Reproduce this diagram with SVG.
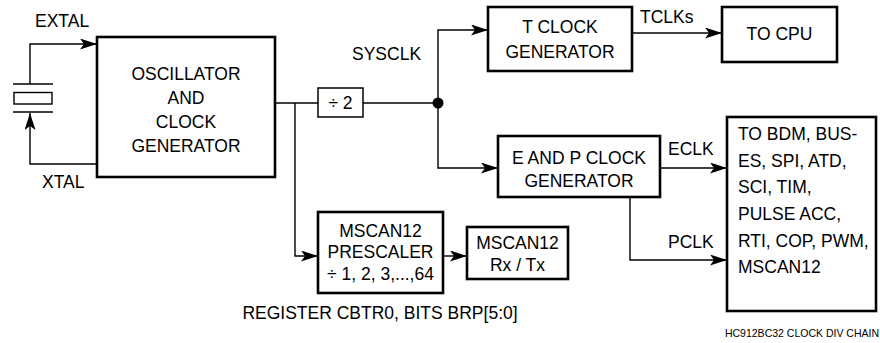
<svg xmlns="http://www.w3.org/2000/svg" width="880" height="343" viewBox="0 0 880 343">
<defs>
<marker id="arr" markerUnits="userSpaceOnUse" markerWidth="18" markerHeight="12" refX="17" refY="5.5" orient="auto">
<path d="M0,0 L17,5.5 L0,11 L4,5.5 Z" fill="#000"/>
</marker>
<style>
.box{fill:#fff;stroke:#000;stroke-width:2.6}
.thin{fill:#fff;stroke:#000;stroke-width:1.5}
.ln{fill:none;stroke:#000;stroke-width:1.4}
.a{marker-end:url(#arr)}
text{font-family:"Liberation Sans",Arial,sans-serif;font-size:17.5px;fill:#000}
.c{text-anchor:middle}
.s{font-size:10.5px}
</style>
</defs>
<rect width="880" height="343" fill="#fff"/>
<g id="crystal">
<line class="ln" x1="13" y1="84" x2="53" y2="84"/>
<rect class="thin" x="14" y="92.5" width="38" height="11.5" style="stroke-width:1.4"/>
<line class="ln" x1="13" y1="112" x2="53" y2="112"/>
</g>
<g id="connectors">
<path class="ln a" d="M30,84 V44 H97"/>
<path class="ln a" d="M97,164 H30 V113"/>
<path class="ln" d="M275,103 H318"/>
<path class="ln" d="M363,103 H438"/>
<path class="ln a" d="M438,103 V30 H488"/>
<path class="ln a" d="M438,103 V168 H498"/>
<circle cx="438" cy="103" r="5.5" fill="#000"/>
<path class="ln a" d="M295,103 V256 H318"/>
<path class="ln a" d="M443,256 H467"/>
<path class="ln a" d="M632,33 H722"/>
<path class="ln a" d="M660,168 H727"/>
<path class="ln a" d="M630,197 V260 H727"/>
</g>
<g id="labels">
<text x="35" y="27">EXTAL</text>
<text x="42" y="188">XTAL</text>
<text x="352" y="60">SYSCLK</text>
<text x="640" y="23">TCLKs</text>
<text x="668" y="155">ECLK</text>
<text x="668" y="248">PCLK</text>
<text x="380" y="319" class="c">REGISTER CBTR0, BITS BRP[5:0]</text>
<text x="879" y="337" text-anchor="end" class="s">HC912BC32 CLOCK DIV CHAIN</text>
</g>
<g id="osc">
<rect class="box" x="97" y="37" width="178" height="140"/>
<text x="186" y="80" class="c">OSCILLATOR</text>
<text x="186" y="104" class="c">AND</text>
<text x="186" y="128" class="c">CLOCK</text>
<text x="186" y="152" class="c">GENERATOR</text>
</g>
<g id="div2">
<rect class="thin" x="318" y="88" width="45" height="29"/>
<text x="340.5" y="109" class="c">÷ 2</text>
</g>
<g id="tclock">
<rect class="box" x="488" y="7" width="144" height="64"/>
<text x="560" y="33" class="c">T CLOCK</text>
<text x="560" y="58" class="c">GENERATOR</text>
</g>
<g id="tocpu">
<rect class="box" x="722" y="7" width="115" height="55"/>
<text x="779.5" y="40" class="c">TO CPU</text>
</g>
<g id="epclock">
<rect class="box" x="498" y="136" width="162" height="61"/>
<text x="579" y="164" class="c">E AND P CLOCK</text>
<text x="579" y="187" class="c">GENERATOR</text>
</g>
<g id="periph">
<rect class="box" x="727" y="117" width="149" height="194"/>
<text x="738" y="140">TO BDM, BUS-</text>
<text x="738" y="167">ES, SPI, ATD,</text>
<text x="738" y="193">SCI, TIM,</text>
<text x="738" y="220">PULSE ACC,</text>
<text x="738" y="247">RTI, COP, PWM,</text>
<text x="738" y="273">MSCAN12</text>
</g>
<g id="prescaler">
<rect class="box" x="318" y="212" width="125" height="81"/>
<text x="380.5" y="237" class="c">MSCAN12</text>
<text x="380.5" y="258" class="c">PRESCALER</text>
<text x="380.5" y="280" class="c">÷ 1, 2, 3,...,64</text>
</g>
<g id="rxtx">
<rect class="box" x="467" y="227" width="101" height="52"/>
<text x="517.5" y="249" class="c">MSCAN12</text>
<text x="517.5" y="271" class="c">Rx / Tx</text>
</g>
</svg>
